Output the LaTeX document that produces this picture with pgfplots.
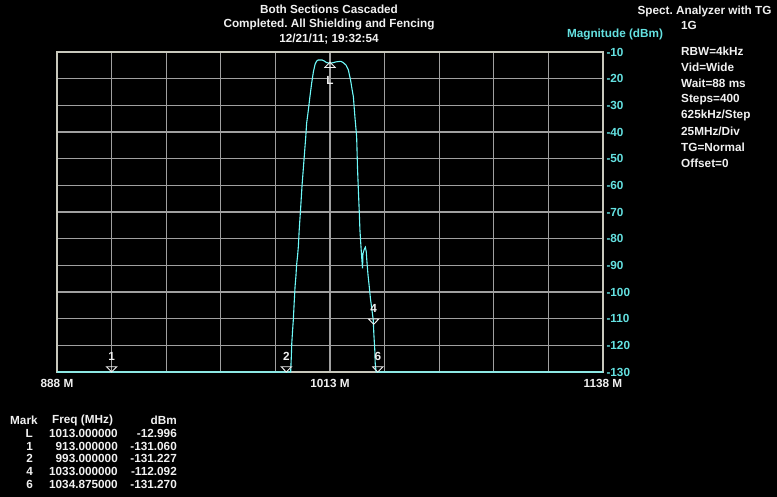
\documentclass[border=0pt]{standalone}
\usepackage{fontspec}
\setmainfont{Liberation Sans}
\usepackage{pgfplots}
\pgfplotsset{compat=1.18}
\definecolor{framecol}{RGB}{200,200,188}
\definecolor{gridcol}{RGB}{160,160,160}
\definecolor{tracecol}{RGB}{110,250,250}
\definecolor{cyantext}{RGB}{100,225,225}
\definecolor{txt}{RGB}{240,240,240}
\newcommand\ff{\fontsize{11.8}{13}\selectfont\bfseries}
\frenchspacing
\begin{document}
\begin{tikzpicture}[x=1bp,y=1bp]
\path[use as bounding box, fill=black] (0,0) rectangle (777,497);
\begin{axis}[
  at={(57bp,125bp)}, anchor=south west,
  scale only axis, width=546bp, height=320bp,
  xmin=888, xmax=1138, ymin=-130, ymax=-10,
  xtick={888,913,...,1138},
  xticklabels={888 M,,,,,1013 M,,,,,1138 M},
  ytick={-130,-120,...,-10},
  yticklabel pos=right,
  grid=major,
  grid style={gridcol, line width=1.2bp},
  axis line style={framecol, line width=2.4bp},
  tick style={draw=none},
  /pgf/number format/assume math mode=true,
  xticklabel style={txt, font=\ff, yshift=-4bp},
  yticklabel style={cyantext, font=\ff},
  clip=false,
]
\addplot[tracecol, line width=1.1bp] coordinates {
(888,-130) (994.9,-130) (995.0,-129.9) (995.3,-124) (995.5,-119.2) (995.9,-114)
(996.2,-110.5) (996.6,-104) (997.0,-98) (997.4,-94) (997.7,-89.9) (998.2,-86)
(998.5,-83) (998.9,-76.7) (999.6,-68) (1000.2,-60) (1000.8,-53.6) (1001.2,-49.3)
(1001.9,-41.8) (1002.3,-36.7) (1003.1,-31.7) (1003.8,-26.8) (1004.6,-21.7)
(1005.4,-17.4) (1006.2,-14.5) (1006.9,-13.4) (1007.6,-13.0) (1009.4,-13.0)
(1010.2,-13.3) (1011.5,-14.0) (1013,-14.2) (1014.5,-14.0) (1015.8,-13.7)
(1016.8,-13.6) (1018,-13.5) (1019.1,-14.0) (1020.4,-15.0) (1021.4,-16.7)
(1022.0,-19) (1022.4,-20.5) (1023.1,-24) (1023.7,-26.8) (1024.4,-34.3)
(1025.2,-41.8) (1025.6,-53.6) (1026.0,-62) (1026.4,-70) (1026.7,-76.7)
(1027.1,-82) (1027.6,-88) (1027.9,-91.1) (1028.1,-85.5) (1028.7,-84)
(1029.2,-83.2) (1029.6,-84.9) (1029.9,-88.6) (1030.4,-93.6) (1030.9,-97.4)
(1031.5,-102.4) (1032.1,-106.1) (1032.8,-110.5) (1033.1,-116.1) (1033.5,-121.7)
(1033.7,-126.7) (1034.1,-129.9) (1034.2,-130) (1138,-130)
};
\addplot[only marks, txt, mark=triangle, mark size=3.5bp,
  mark options={yshift=3.5bp, rotate=180, xscale=1.7, line width=0.9bp},
  point meta=explicit symbolic, nodes near coords,
  nodes near coords style={txt, font=\ff, anchor=south, yshift=4bp}]
  coordinates {(913,-130)[1] (993,-130)[2] (1033,-112.092)[4] (1034.875,-130)[6]};
\addplot[only marks, txt, mark=triangle, mark size=3.5bp,
  mark options={yshift=-5.8bp, xscale=1.7, line width=0.9bp},
  point meta=explicit symbolic, nodes near coords,
  nodes near coords style={txt, font=\ff, anchor=north, yshift=-7bp}]
  coordinates {(1013,-12.996)[L]};
\end{axis}
% titles
\node[txt, font=\ff] at (329,497-9.3) {Both Sections Cascaded};
\node[txt, font=\ff] at (329,497-24) {Completed. All Shielding and Fencing};
\node[txt, font=\ff] at (329,497-39.3) {12/21/11; 19:32:54};
\node[cyantext, font=\ff] at (615,497-34.3) {Magnitude (dBm)};
% right panel
\node[txt, font=\ff, anchor=east] at (775,497-11) {Spect. Analyzer with TG};
\begin{scope}[every node/.style={txt, font=\ff, anchor=west, inner sep=0pt}]
\node at (681,497-25) {1G};
\node at (681,497-51.7) {RBW=4kHz};
\node at (681,497-67.7) {Vid=Wide};
\node at (681,497-83.3) {Wait=88 ms};
\node at (681,497-99.3) {Steps=400};
\node at (681,497-115.7) {625kHz/Step};
\node at (681,497-131.7) {25MHz/Div};
\node at (681,497-147.7) {TG=Normal};
\node at (681,497-163.3) {Offset=0};
\end{scope}
% marker table
\begin{scope}[every node/.style={txt, font=\ff, inner sep=0pt}]
\node[anchor=west] at (10,497-420.7) {Mark};
\node[anchor=west] at (52,497-420.7) {Freq (MHz)};
\node[anchor=east] at (177,497-420.7) {dBm};
\foreach \y/\m/\f/\d in {433.3/L/1013.000000/-12.996, 446/1/913.000000/-131.060, 458.7/2/993.000000/-131.227, 471.3/4/1033.000000/-112.092, 484/6/1034.875000/-131.270}{
  \node[anchor=east] at (33,497-\y) {\m};
  \node[anchor=east] at (118,497-\y) {\f};
  \node[anchor=east] at (177,497-\y) {\d};
}
\end{scope}
\end{tikzpicture}
\end{document}
